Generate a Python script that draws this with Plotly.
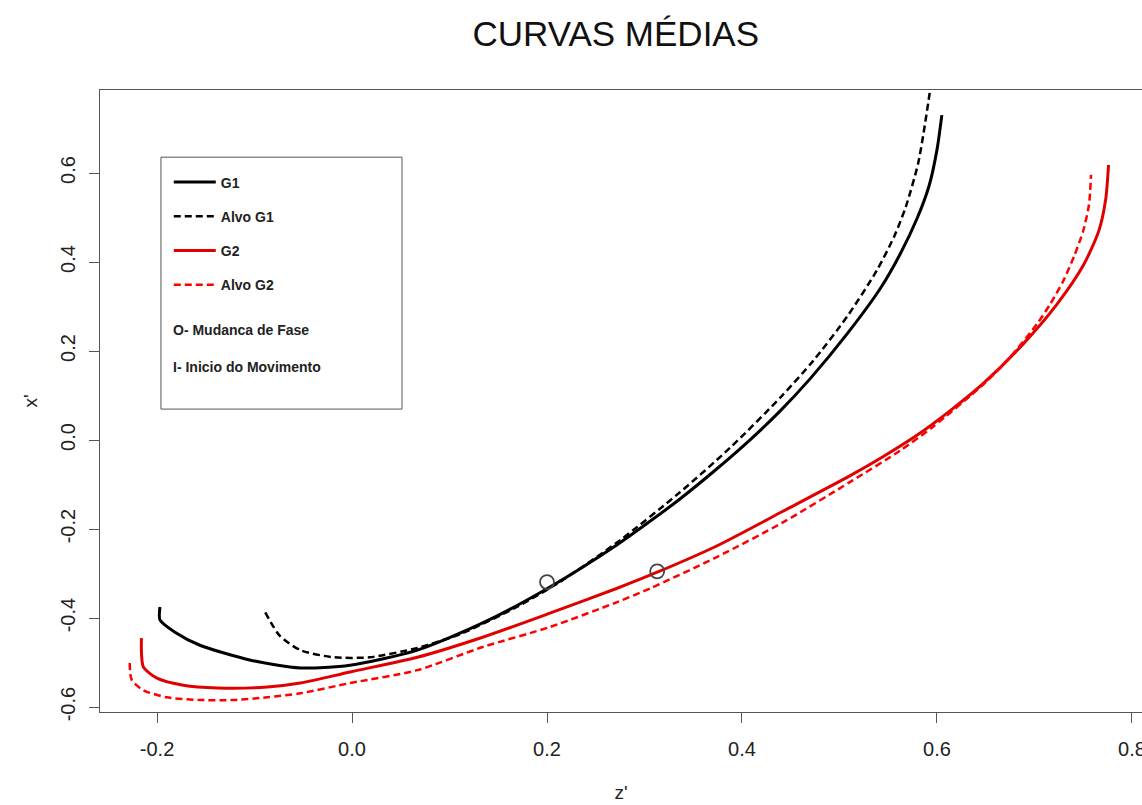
import plotly.graph_objects as go

# G1 (black solid)
g1_z = [-0.197, -0.197, -0.182, -0.156, -0.105, -0.053, -0.002, 0.067, 0.134, 0.203, 0.272,
        0.306, 0.336, 0.374, 0.408, 0.439, 0.470, 0.508, 0.542, 0.562, 0.580, 0.592, 0.600, 0.605]
g1_x = [-0.375, -0.404, -0.431, -0.461, -0.494, -0.512, -0.506, -0.472, -0.411, -0.330, -0.235,
        -0.182, -0.133, -0.065, 0.000, 0.065, 0.138, 0.239, 0.341, 0.417, 0.500, 0.572, 0.652, 0.730]

# Alvo G1 (black dashed)
a1_z = [-0.089, -0.074, -0.053, -0.019, 0.018, 0.067, 0.111, 0.169, 0.213, 0.275, 0.336,
        0.388, 0.440, 0.473, 0.508, 0.538, 0.556, 0.568, 0.581, 0.593]
a1_x = [-0.387, -0.440, -0.472, -0.488, -0.488, -0.467, -0.436, -0.375, -0.319, -0.225, -0.118,
        -0.017, 0.097, 0.178, 0.278, 0.380, 0.457, 0.524, 0.625, 0.787]

# G2 (red solid)
g2_z = [-0.216, -0.216, -0.214, -0.200, -0.173, -0.138, -0.087, -0.053, -0.002, 0.067, 0.134,
        0.203, 0.272, 0.313, 0.374, 0.442, 0.511, 0.545, 0.579, 0.613, 0.647, 0.688, 0.723,
        0.750, 0.766, 0.773, 0.776]
g2_x = [-0.445, -0.476, -0.510, -0.535, -0.551, -0.557, -0.555, -0.546, -0.521, -0.488, -0.443,
        -0.389, -0.333, -0.297, -0.238, -0.160, -0.080, -0.037, 0.010, 0.065, 0.126, 0.215, 0.305,
        0.392, 0.470, 0.540, 0.618]

# Alvo G2 (red dashed)
a2_z = [-0.228, -0.226, -0.214, -0.190, -0.156, -0.122, -0.087, -0.053, -0.002, 0.067, 0.134,
        0.203, 0.272, 0.306, 0.374, 0.442, 0.511, 0.562, 0.596, 0.649, 0.675, 0.703, 0.716,
        0.729, 0.741, 0.750, 0.756, 0.758]
a2_x = [-0.501, -0.539, -0.562, -0.578, -0.584, -0.584, -0.578, -0.569, -0.546, -0.517, -0.465,
        -0.420, -0.364, -0.333, -0.263, -0.185, -0.094, -0.024, 0.030, 0.128, 0.186, 0.262, 0.305,
        0.355, 0.415, 0.470, 0.530, 0.596]

# Mudanca de fase points
fase_z = [0.200, 0.313]
fase_x = [-0.319, -0.295]

tick_vals_x = [-0.2, 0.0, 0.2, 0.4, 0.6, 0.8]
tick_text_x = ["-0.2", "0.0", "0.2", "0.4", "0.6", "0.8"]
tick_vals_y = [-0.6, -0.4, -0.2, 0.0, 0.2, 0.4, 0.6]
tick_text_y = ["-0.6", "-0.4", "-0.2", "0.0", "0.2", "0.4", "0.6"]

FONT = "Liberation Sans, Arial, sans-serif"
SM = 0.7

fig = go.Figure()
fig.add_trace(go.Scatter(x=g1_z, y=g1_x, mode="lines", name="G1", legendgroup="a",
                         line=dict(color="black", width=3, shape="spline", smoothing=SM)))
fig.add_trace(go.Scatter(x=a1_z, y=a1_x, mode="lines", name="Alvo G1", legendgroup="b",
                         line=dict(color="black", width=2.5, dash="7px,4px",
                                   shape="spline", smoothing=SM)))
fig.add_trace(go.Scatter(x=g2_z, y=g2_x, mode="lines", name="G2", legendgroup="c",
                         line=dict(color="#e00000", width=3, shape="spline", smoothing=SM)))
fig.add_trace(go.Scatter(x=a2_z, y=a2_x, mode="lines", name="Alvo G2", legendgroup="d",
                         line=dict(color="#ff0000", width=2.5, dash="7px,4px",
                                   shape="spline", smoothing=SM)))
fig.add_trace(go.Scatter(x=fase_z, y=fase_x, mode="markers", showlegend=False,
                         marker=dict(symbol="circle-open", size=14, color="#444",
                                     line=dict(width=1.8, color="#444"))))

# legend box
fig.add_shape(type="rect", xref="paper", yref="paper",
              x0=0.0585, x1=0.2898, y0=0.487, y1=0.892,
              line=dict(color="#555", width=1), fillcolor="rgba(0,0,0,0)")

for txt, yy in [("O- Mudanca de Fase", 0.614), ("I- Inicio do Movimento", 0.555)]:
    fig.add_annotation(text="<b>" + txt + "</b>", xref="paper", yref="paper",
                       x=0.068, y=yy, xanchor="left", yanchor="middle", showarrow=False,
                       font=dict(family=FONT, size=14, color="#222"))

fig.update_layout(
    width=1142, height=805,
    margin=dict(l=100, r=0, t=90, b=93),
    paper_bgcolor="white", plot_bgcolor="white",
    title=dict(text="CURVAS MÉDIAS", x=0.495, xref="paper", xanchor="center",
               y=0.958, yref="container", yanchor="middle",
               font=dict(family=FONT, size=35, color="#111")),
    showlegend=True,
    legend=dict(x=0.066, y=0.877, xanchor="left", yanchor="top",
                bgcolor="rgba(0,0,0,0)", borderwidth=0, tracegroupgap=13,
                itemwidth=42,
                font=dict(family=FONT, size=14, color="#222", weight="bold")),
    font=dict(family=FONT, color="#222"),
)
fig.update_xaxes(range=[-0.2585, 0.8103], tickvals=tick_vals_x, ticktext=tick_text_x,
                 automargin=False,
                 showgrid=False, zeroline=False, showline=True, mirror=True,
                 linecolor="#555", linewidth=1.2, ticks="outside", ticklen=10,
                 tickcolor="#555", tickfont=dict(size=20, family=FONT, color="#222"),
                 ticklabelstandoff=9, ticklabeloverflow="allow",
                 title=dict(text="z'", font=dict(size=19, family=FONT, color="#222"), standoff=26))
fig.update_yaxes(range=[-0.611, 0.7865], tickvals=tick_vals_y, ticktext=tick_text_y,
                 automargin=False,
                 showgrid=False, zeroline=False, showline=True, mirror=True,
                 linecolor="#555", linewidth=1.2, ticks="outside", ticklen=10,
                 tickcolor="#555", tickangle=-90,
                 tickfont=dict(size=20, family=FONT, color="#222"),
                 ticklabelstandoff=6,
                 title=dict(text="x'", font=dict(size=19, family=FONT, color="#222"), standoff=14))

fig.write_html("out.html")
